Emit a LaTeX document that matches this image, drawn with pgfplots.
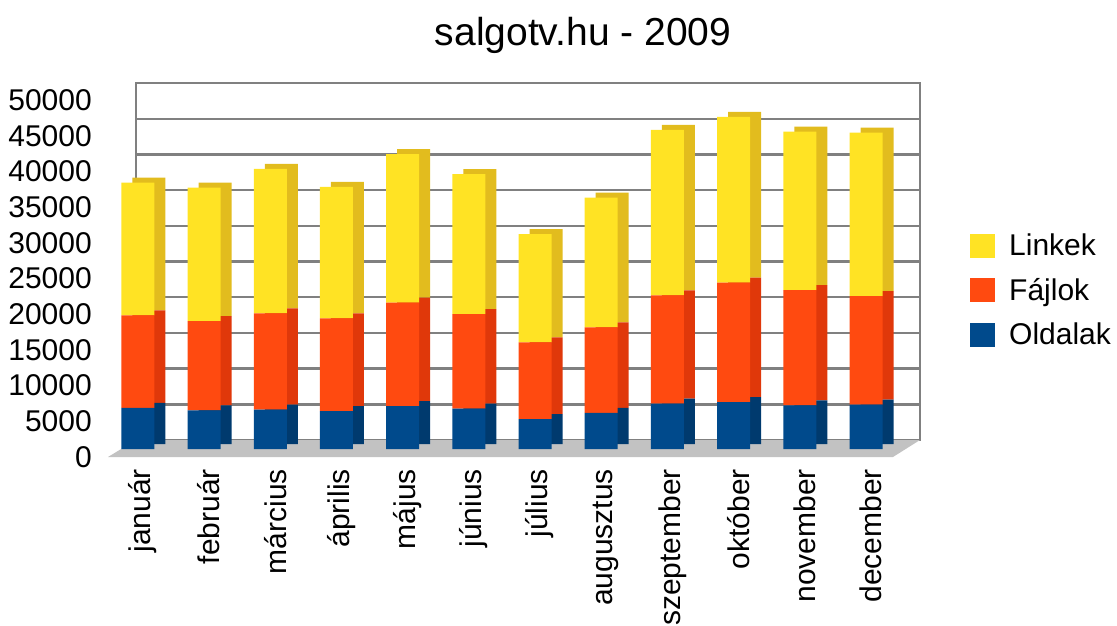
\documentclass[border=0pt]{standalone}
\usepackage{pgfplots}
\pgfplotsset{compat=1.18}
\usepackage{pgfplotstable}
\usepackage{fontspec}
\setmainfont{Liberation Sans}
\definecolor{cyel}{HTML}{FFE324}
\definecolor{cred}{HTML}{FF4A10}
\definecolor{cblu}{HTML}{004A8C}
\definecolor{dyel}{HTML}{E2BC1E}
\definecolor{dred}{HTML}{E0380A}
\definecolor{dblu}{HTML}{003A6E}
\definecolor{gridgray}{HTML}{808080}

\pgfplotstableread{
x old fajl link
0 5750 12950 18600
1 5400 12500 18700
2 5500 13500 20250
3 5300 13000 18400
4 6000 14500 20800
5 5650 13250 19600
6 4200 10750 15150
7 5050 12000 18150
8 6350 15150 23200
9 6550 16750 23200
10 6100 16150 22200
11 6200 15200 22900
}\data

\pgfplotsset{
  barax/.style={scale only axis, width=797pt, height=357pt,
    xmin=-0.30, xmax=11.74, ymin=0, ymax=50000, anchor=south west,
    ybar stacked, bar width=33pt,
    axis line style={draw=none}, tick style={draw=none},
    clip=false},
}

\begin{document}
\begin{tikzpicture}
\useasboundingbox (0,0) rectangle (1117pt,625pt);
% back wall with grid and floor
\begin{axis}[scale only axis, width=784pt, height=357pt, at={(136pt,185pt)}, anchor=south west,
  xmin=0, xmax=1, ymin=0, ymax=50000, xtick=\empty,
  ytick={0,5000,...,50000}, yticklabels={}, scaled y ticks=false, tick style={draw=none},
  ymajorgrids, grid style={gridgray, line width=2.4pt},
  axis line style={gridgray, line width=2.4pt}, clip=false]
  \fill[black!24] (rel axis cs:0,0) -- (rel axis cs:1,0) -- ([shift={(-27pt,-17pt)}]rel axis cs:1,0) -- ([shift={(-28pt,-17pt)}]rel axis cs:0,0) -- cycle;
\end{axis}
% side/top faces
\begin{axis}[barax, at={(129pt,181pt)}, xtick=\empty, ytick=\empty]
  \addplot[fill=dblu, draw=none] table[x=x, y=old] {\data};
  \addplot[fill=dred, draw=none] table[x=x, y=fajl] {\data};
  \addplot[fill=dyel, draw=none] table[x=x, y=link] {\data};
\end{axis}
% front faces
\begin{axis}[barax, at={(118pt,176pt)},
  xtick={0,...,11},
  xticklabels={január,február,március,április,május,június,július,augusztus,szeptember,október,november,december},
  xticklabel style={xshift=5pt, yshift=-20pt, rotate=90, anchor=east, inner sep=0pt, font=\fontsize{30}{36}\selectfont},
  ytick={0,5000,...,50000}, scaled y ticks=false,
  yticklabel style={/pgf/number format/1000 sep={}, /pgf/number format/assume math mode=true,
    anchor=east, inner sep=0pt, xshift=-26pt, yshift=-8pt, font=\fontsize{30}{36}\selectfont},
  reverse legend,
  legend cell align=left,
  legend style={at={(rel axis cs:1.069,0.445)}, anchor=west, draw=none, fill=none, inner sep=0pt,
    row sep=17pt, font=\fontsize{30}{36}\selectfont,
    /tikz/every odd column/.append style={column sep=12pt}},
  legend image code/.code={\fill[#1, draw=none] (0pt,-12pt) rectangle (25pt,12pt);},
]
  \addplot[fill=cblu, draw=none] table[x=x, y=old] {\data};
  \addlegendentry{Oldalak}
  \addplot[fill=cred, draw=none] table[x=x, y=fajl] {\data};
  \addlegendentry{Fájlok}
  \addplot[fill=cyel, draw=none] table[x=x, y=link] {\data};
  \addlegendentry{Linkek}
\end{axis}
\node[font=\fontsize{39}{46}\selectfont] at (583pt,590pt) {salgotv.hu - 2009};
\end{tikzpicture}
\end{document}
